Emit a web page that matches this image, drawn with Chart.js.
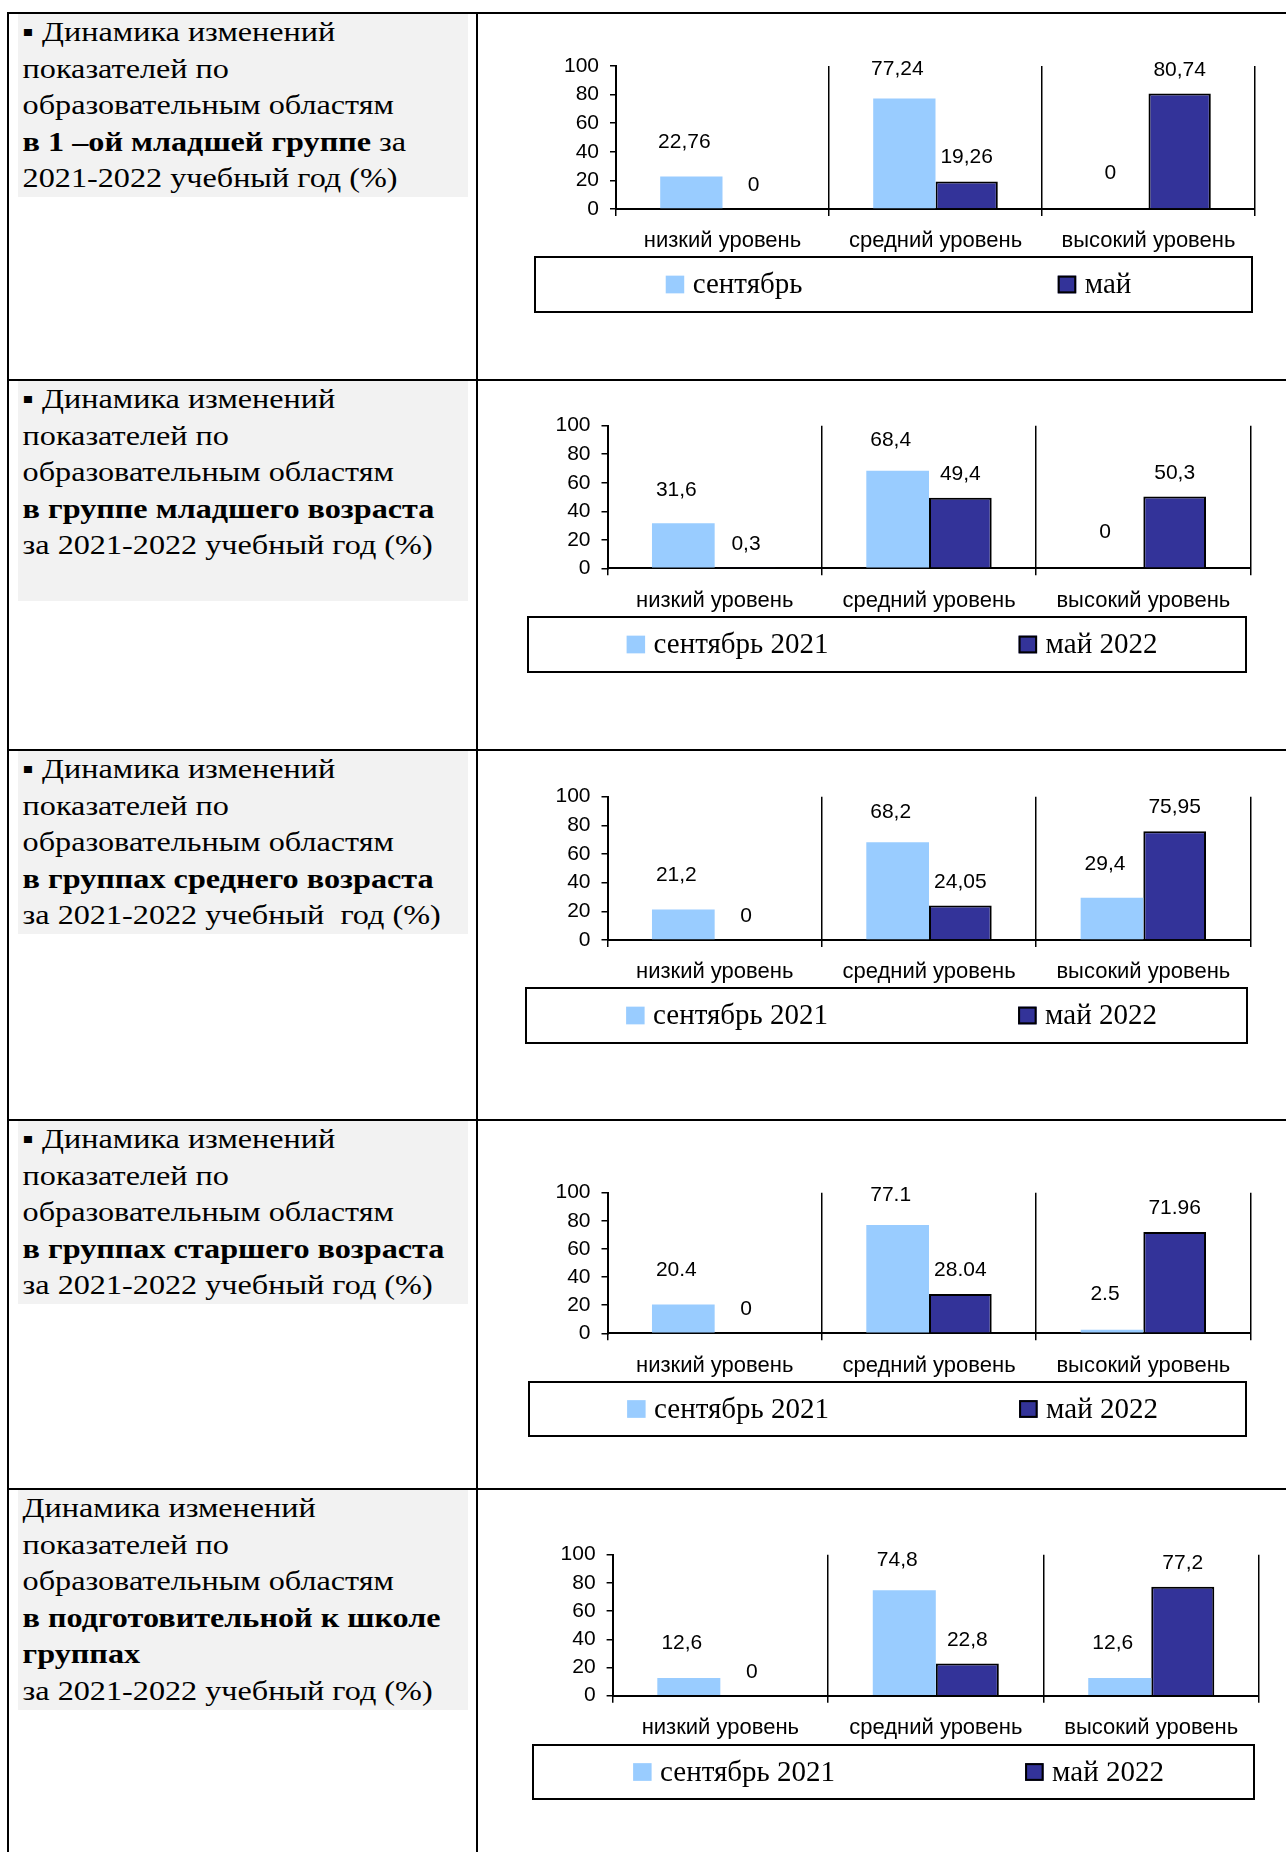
<!DOCTYPE html>
<html><head><meta charset="utf-8">
<script src="https://cdn.jsdelivr.net/npm/chart.js@4.4.1/dist/chart.umd.min.js"></script>
<style>
html,body{margin:0;padding:0;background:#fff;}
body{width:1286px;height:1852px;position:relative;overflow:hidden;}
.hl{position:absolute;left:8px;width:1278px;height:2px;background:#000;z-index:3;}
.vl{position:absolute;width:2px;background:#000;z-index:3;}
.txt{position:absolute;left:18px;width:450px;background:#f2f2f2;font-family:'Liberation Serif','Times New Roman',serif;font-size:28px;color:#000;}
.txt div{line-height:36.6px;height:36.6px;white-space:pre;padding-left:4px;transform:scaleX(1.15);transform-origin:0 50%;}
canvas{position:absolute;}
</style></head>
<body>
<div class="hl" style="top:12px"></div>
<div class="hl" style="top:379px"></div>
<div class="hl" style="top:749px"></div>
<div class="hl" style="top:1119px"></div>
<div class="hl" style="top:1488px"></div>
<div class="vl" style="left:7px;top:12px;height:1840px"></div>
<div class="vl" style="left:476px;top:12px;height:1840px"></div>

<div class="txt" style="top:14px">
<div>▪ Динамика изменений</div>
<div>показателей по</div>
<div>образовательным областям</div>
<div><b>в 1 –ой младшей группе</b> за</div>
<div>2021-2022 учебный год (%)</div>
</div>
<div class="txt" style="top:381px">
<div>▪ Динамика изменений</div>
<div>показателей по</div>
<div>образовательным областям</div>
<div><b>в группе младшего возраста</b></div>
<div>за 2021-2022 учебный год (%)</div>
<div> </div>
</div>
<div class="txt" style="top:751px">
<div>▪ Динамика изменений</div>
<div>показателей по</div>
<div>образовательным областям</div>
<div><b>в группах среднего возраста</b></div>
<div>за 2021-2022 учебный  год (%)</div>
</div>
<div class="txt" style="top:1121px">
<div>▪ Динамика изменений</div>
<div>показателей по</div>
<div>образовательным областям</div>
<div><b>в группах старшего возраста</b></div>
<div>за 2021-2022 учебный год (%)</div>
</div>
<div class="txt" style="top:1490px">
<div>Динамика изменений</div>
<div>показателей по</div>
<div>образовательным областям</div>
<div><b>в подготовительной к школе</b></div>
<div><b>группах</b></div>
<div>за 2021-2022 учебный год (%)</div>
</div>

<canvas id="c0"></canvas>
<canvas id="c1"></canvas>
<canvas id="c2"></canvas>
<canvas id="c3"></canvas>
<canvas id="c4"></canvas>

<script>
// ---- data ----
const categories = ['низкий уровень', 'средний уровень', 'высокий уровень'];
const seriesNames1 = ['сентябрь', 'май'];
const seriesNames = ['сентябрь 2021', 'май 2022'];
const yTicks = [0, 20, 40, 60, 80, 100];

const sept1 = [22.76, 77.24, 0];
const may1  = [0, 19.26, 80.74];
const sept2 = [31.6, 68.4, 0];
const may2  = [0.3, 49.4, 50.3];
const sept3 = [21.2, 68.2, 29.4];
const may3  = [0, 24.05, 75.95];
const sept4 = [20.4, 77.1, 2.5];
const may4  = [0, 28.04, 71.96];
const sept5 = [12.6, 74.8, 12.6];
const may5  = [0, 22.8, 77.2];
const decimalSeps = [',', ',', ',', '.', ','];

// ---- layout (page pixels) ----
const rowTops = [12, 379, 749, 1119, 1488];
const plotBoxes = [
  {L: 616,   T: 66,     B: 209,    R: 1255,   lg: [535, 257, 1252, 312]},
  {L: 607.5, T: 425.7,  B: 568.3,  R: 1250.5, lg: [528, 617, 1246, 672]},
  {L: 607.5, T: 796.7,  B: 940,    R: 1250.5, lg: [526, 988, 1247, 1043]},
  {L: 607.5, T: 1192.7, B: 1333.3, R: 1250.5, lg: [529, 1382, 1246, 1436]},
  {L: 612.6, T: 1554.7, B: 1695.7, R: 1259,   lg: [533, 1745, 1254, 1799]}
];

const SANS = '"Liberation Sans", Arial, sans-serif';
const SERIF = '"Liberation Serif", "Times New Roman", serif';

const valueLabels = {
  id: 'valueLabels',
  afterDatasetsDraw(chart, args, opts) {
    const ctx = chart.ctx;
    ctx.save();
    const fs = 21;
    ctx.font = fs + 'px ' + SANS;
    ctx.fillStyle = '#000';
    ctx.textAlign = 'center';
    ctx.textBaseline = 'alphabetic';
    chart.data.datasets.forEach((ds, di) => {
      const meta = chart.getDatasetMeta(di);
      meta.data.forEach((bar, j) => {
        const v = ds.data[j];
        const txt = String(v).replace('.', opts.sep);
        const dy = di === 0 ? 38 - 0.09 * v : 25.5;
        const dx = di === 0 ? -7 : 0;
        ctx.fillText(txt, bar.x + dx, bar.y - dy + 0.358 * fs);
      });
    });
    ctx.restore();
  }
};

const boxLegend = {
  id: 'boxLegend',
  afterDraw(chart, args, opts) {
    const ctx = chart.ctx;
    const [x1, y1, x2, y2] = opts.box;
    const ox = opts.left, oy = opts.top;
    ctx.save();
    ctx.lineWidth = 2;
    ctx.strokeStyle = '#000';
    ctx.strokeRect(x1 - ox, y1 - oy, x2 - x1, y2 - y1);
    const fs = 29;
    ctx.font = fs + 'px ' + SERIF;
    const items = chart.data.datasets.map(ds => ({label: ds.label, fill: ds.backgroundColor, border: ds.borderWidth ? ds.borderColor : null}));
    const sw = 18.5, sh = 17.7, gap = 8.5, spacing = 392;
    const lastW = sw + gap + ctx.measureText(items[items.length - 1].label).width;
    const groupW = spacing * (items.length - 1) + lastW;
    const cx = (x1 + x2) / 2 - ox, cy = (y1 + y2) / 2 - oy;
    let x = cx - groupW / 2 + 5;
    items.forEach(it => {
      ctx.fillStyle = it.fill;
      ctx.fillRect(x, cy - sh / 2, sw, sh);
      if (it.border) {
        ctx.lineWidth = 2;
        ctx.strokeStyle = it.border;
        ctx.strokeRect(x + 1, cy - sh / 2 + 1, sw - 2, sh - 2);
      }
      ctx.fillStyle = '#000';
      ctx.textAlign = 'left';
      ctx.textBaseline = 'alphabetic';
      ctx.fillText(it.label, x + sw + gap, cy + 0.31 * fs);
      x += spacing;
    });
    ctx.restore();
  }
};

function zeroPad(s) { s.paddingLeft = 0; s.paddingRight = 0; s.paddingTop = 0; s.paddingBottom = 0; }

function makeChart(i, sept, may, names) {
  const cv = document.getElementById('c' + i);
  const cLeft = 479, cTop = rowTops[i] + 2;
  const cW = 1286 - cLeft;
  const cH = (i < 4 ? rowTops[i + 1] : 1852) - cTop;
  cv.width = cW; cv.height = cH;
  cv.style.left = cLeft + 'px'; cv.style.top = cTop + 'px';
  cv.style.width = cW + 'px'; cv.style.height = cH + 'px';
  const a = plotBoxes[i];
  const YW = 60, XH = 62;
  new Chart(cv, {
    type: 'bar',
    data: {
      labels: categories,
      datasets: [
        {label: names[0], data: sept, backgroundColor: '#99CCFF', borderWidth: 0},
        {label: names[1], data: may, backgroundColor: '#333399', borderColor: '#000', borderWidth: 2}
      ]
    },
    options: {
      responsive: false,
      animation: false,
      devicePixelRatio: 1,
      layout: {padding: {left: a.L - cLeft - YW, top: a.T - cTop, right: cLeft + cW - a.R, bottom: cTop + cH - a.B - XH}},
      datasets: {bar: {categoryPercentage: 0.585, barPercentage: 1}},
      plugins: {
        legend: {display: false},
        tooltip: {enabled: false},
        boxLegend: {box: a.lg, left: cLeft, top: cTop},
        valueLabels: {sep: decimalSeps[i]}
      },
      scales: {
        x: {
          grid: {offset: true, color: '#000', lineWidth: 1.5, tickLength: 7, drawOnChartArea: true, drawTicks: true},
          border: {display: true, color: '#000', width: 2},
          ticks: {color: '#000', font: {family: SANS, size: 22}, padding: 12, maxRotation: 0, autoSkip: false},
          afterFit(s) { s.height = XH; zeroPad(s); }
        },
        y: {
          min: 0, max: 100,
          afterBuildTicks(s) { s.ticks = yTicks.map(v => ({value: v})); },
          ticks: {color: '#000', font: {family: SANS, size: 21}, padding: 11, autoSkip: false},
          grid: {drawOnChartArea: false, color: '#000', tickLength: 6, lineWidth: 1.5},
          border: {display: true, color: '#000', width: 2},
          afterFit(s) { s.width = YW; zeroPad(s); }
        }
      }
    },
    plugins: [boxLegend, valueLabels]
  });
}

makeChart(0, sept1, may1, seriesNames1);
makeChart(1, sept2, may2, seriesNames);
makeChart(2, sept3, may3, seriesNames);
makeChart(3, sept4, may4, seriesNames);
makeChart(4, sept5, may5, seriesNames);
</script>
</body></html>
